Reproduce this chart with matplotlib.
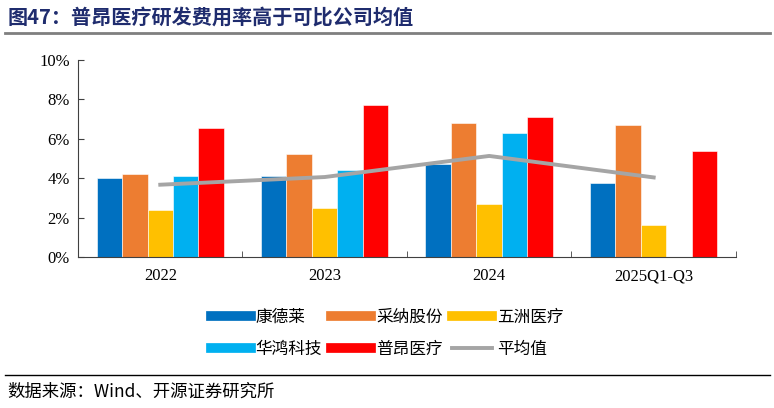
import matplotlib
matplotlib.use("Agg")
import matplotlib.pyplot as plt
import numpy as np
from matplotlib.lines import Line2D

plt.rcParams['font.family'] = ['Noto Sans CJK SC', 'DejaVu Sans']

categories = ["2022", "2023", "2024", "2025Q1-Q3"]
series_names = ["康德莱", "采纳股份", "五洲医疗", "华鸿科技", "普昂医疗"]
kdl = [4.0, 4.1, 4.72, 3.77]
cngf = [4.21, 5.21, 6.8, 6.7]
wzyl = [2.39, 2.5, 2.69, 1.64]
hhkj = [4.1, 4.43, 6.31, np.nan]
paly = [6.53, 7.7, 7.09, 5.38]
avg = [3.67, 4.06, 5.13, 4.04]
avg_name = "平均值"
colors = ["#0070C0", "#ED7D31", "#FFC000", "#00B0F0", "#FF0000"]
avg_color = "#A5A5A5"
yticks = [0, 2, 4, 6, 8, 10]

fig = plt.figure(figsize=(7.74, 4.08), dpi=100)
ax = fig.add_axes([0.1008, 0.370, 0.850, 0.483])

x = np.arange(len(categories))
width = 0.155
data = [kdl, cngf, wzyl, hhkj, paly]
for i, (vals, c, n) in enumerate(zip(data, colors, series_names)):
    ax.bar(x + (i - 2) * width, np.array(vals) / 100, width=width, color=c,
           label=n, edgecolor='white', linewidth=0.4)
ax.plot(x, np.array(avg) / 100, color=avg_color, lw=2.8, label=avg_name)

ax.set_xlim(-0.5, 3.5)
ax.set_ylim(0, 0.10)
ax.set_yticks([v / 100 for v in yticks])
ax.set_yticklabels([f"{v}%" for v in yticks], family=['Liberation Serif'], fontsize=12)
ax.set_xticks(x)
ax.set_xticklabels(categories, family=['Liberation Serif'], fontsize=12)
ax.set_xticks(np.arange(-0.5, 4.0, 1.0), minor=True)
ax.tick_params(axis='x', which='major', length=0, pad=8)
ax.tick_params(axis='x', which='minor', length=4, direction='in', color='#404040')
ax.tick_params(axis='y', length=4, direction='in', color='#404040', pad=6)
for s in ['top', 'right']:
    ax.spines[s].set_visible(False)
ax.spines['left'].set_color('#404040')
ax.spines['bottom'].set_color('#404040')

leg_handles = [Line2D([0], [0], color=c, lw=7) for c in colors] + [Line2D([0], [0], color=avg_color, lw=2.8)]
leg_labels = series_names + [avg_name]
order = [0, 3, 1, 4, 2, 5]
fig.legend([leg_handles[i] for i in order], [leg_labels[i] for i in order],
           loc='center', bbox_to_anchor=(0.50, 0.183), ncol=3, frameon=False,
           fontsize=12, handlelength=2.4, columnspacing=0.55, handletextpad=0.3,
           labelspacing=0.9)

fig.text(0.010, 0.958, "图47：普昂医疗研发费用率高于可比公司均值", fontsize=14.5,
         fontweight='bold', color='#1F2C6E', va='center', ha='left')
fig.add_artist(Line2D([0.007, 0.995], [0.918, 0.918], color='#7F7F7F', lw=2))
fig.add_artist(Line2D([0.007, 0.995], [0.081, 0.081], color='#000000', lw=1))
fig.text(0.010, 0.040, "数据来源：Wind、开源证券研究所", fontsize=12.5,
         va='center', ha='left', color='#000000')

fig.savefig("out.png", dpi=100)
